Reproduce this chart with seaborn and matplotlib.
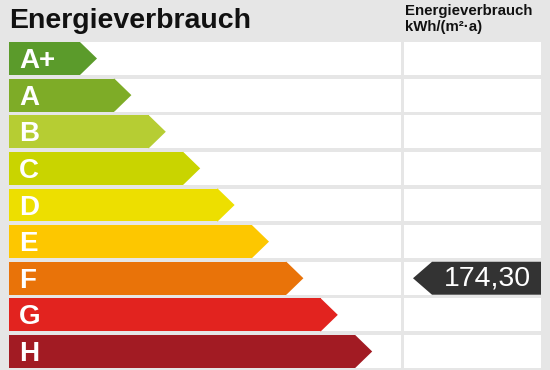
import numpy as np
import pandas as pd
import seaborn as sns
import matplotlib.pyplot as plt
from matplotlib.patches import Polygon

# energy classes and their label colours
classes = ["A+", "A", "B", "C", "D", "E", "F", "G", "H"]
class_rank = [0, 1, 2, 3, 4, 5, 6, 7, 8]
class_colors = ["#5b9b2b", "#7eac27", "#b6cd33", "#c9d400", "#eddf00",
                "#fdc700", "#e97309", "#e2231f", "#a21b23"]

# the building's value and its class
value_label = "174,30"
value_class = "F"

title = "Energieverbrauch"
col_header = ["Energieverbrauch", "kWh/(m²·a)"]

BG = "#e6e6e6"
W, H = 550, 370

sns.set_theme(style="white")
plt.rcParams["font.family"] = ["Liberation Sans", "DejaVu Sans"]

fig = plt.figure(figsize=(W / 100, H / 100), dpi=100, facecolor=BG)

# axes for the rows, one category per row, x in pixels (0 = left edge of rows)
row_top, row_bottom = 40.2, 369.8
ax = fig.add_axes([0, 1 - row_bottom / H, 1, (row_bottom - row_top) / H])
ax.set_facecolor("none")

ypos = np.arange(len(classes))
# white cells: left column and right value column
ax.barh(ypos, 392, left=0, height=0.9, color="white", lw=0, zorder=1)
ax.barh(ypos, 137, left=395, height=0.9, color="white", lw=0, zorder=1)

df = pd.DataFrame({"cls": classes, "rank": class_rank})
df["length"] = 71 + 34.4 * df["rank"]
sns.barplot(data=df, x="length", y="cls", hue="cls", palette=class_colors,
            order=classes, orient="h", width=0.9, legend=False,
            saturation=1, linewidth=0, ax=ax, zorder=2)

# arrow tips on every class bar
tip = 17
bars = [p for p in ax.patches if p.get_zorder() == 2]
for p, col, lab in zip(bars, class_colors, classes):
    x1 = p.get_x() + p.get_width()
    y0, h = p.get_y(), p.get_height()
    ax.add_patch(Polygon([(x1 - 0.5, y0), (x1, y0), (x1 + tip, y0 + h / 2),
                          (x1, y0 + h), (x1 - 0.5, y0 + h)],
                         closed=True, color=col, lw=0, zorder=2))
    ax.text(10, y0 + h / 2 + 0.26, lab, color="white", fontsize=20,
            fontweight="bold", va="baseline", ha="left", zorder=3)

# value marker in the row of its class
yi = classes.index(value_class)
h = 0.9
mk_left, mk_body, mk_right = 404, 423, 532
ax.add_patch(Polygon([(mk_left, yi), (mk_body, yi - h / 2), (mk_right, yi - h / 2),
                      (mk_right, yi + h / 2), (mk_body, yi + h / 2)],
                     closed=True, color="#333333", lw=0, zorder=3))
ax.text((mk_body + mk_right) / 2 + 1, yi + 0.02, value_label, color="white",
        fontsize=20.5, ha="center", va="center", zorder=4)

ax.set_xlim(-9, 541)
ax.set_ylim(len(classes) - 0.5, -0.5)
ax.axis("off")

fig.text(9 / W, 1 - 27.5 / H, title, fontsize=20.5, fontweight="bold",
         color="#111111", va="baseline", ha="left")
fig.text(405 / W, 1 - 15 / H, col_header[0], fontsize=10.8, fontweight="bold",
         color="#111111", va="baseline", ha="left")
fig.text(405 / W, 1 - 31.5 / H, col_header[1], fontsize=10.8, fontweight="bold",
         color="#111111", va="baseline", ha="left")

fig.savefig("out.png", dpi=100, facecolor=BG)
